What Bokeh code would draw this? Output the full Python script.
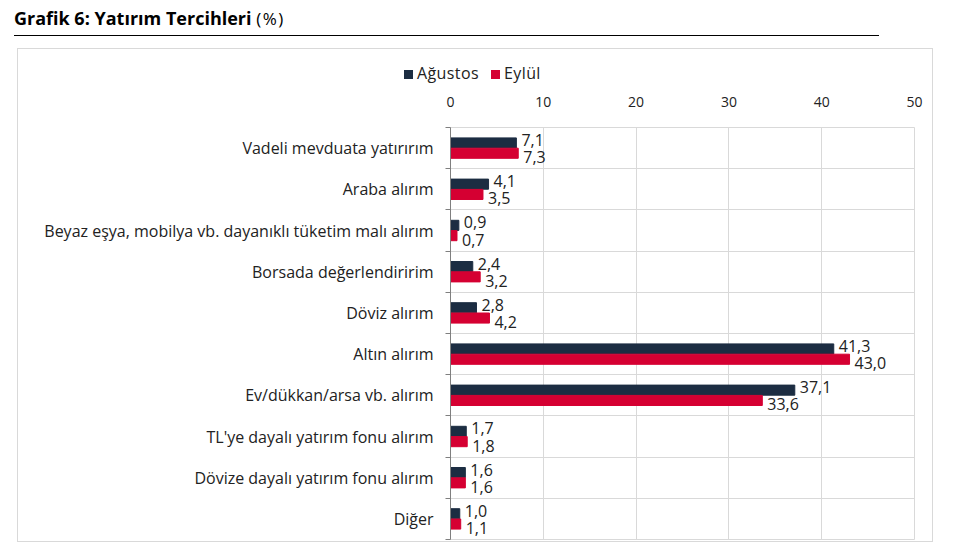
from bokeh.plotting import figure
from bokeh.layouts import column
from bokeh.models import ColumnDataSource, Range1d, LinearAxis, FixedTicker, Grid, Div
from bokeh.transform import dodge
from bokeh.core.properties import value
from bokeh.embed import file_html
from bokeh.resources import INLINE

# data (%)
categories = [
    "Vadeli mevduata yatırırım",
    "Araba alırım",
    "Beyaz eşya, mobilya vb. dayanıklı tüketim malı alırım",
    "Borsada değerlendiririm",
    "Döviz alırım",
    "Altın alırım",
    "Ev/dükkan/arsa vb. alırım",
    "TL'ye dayalı yatırım fonu alırım",
    "Dövize dayalı yatırım fonu alırım",
    "Diğer",
]
agustos = [7.1, 4.1, 0.9, 2.4, 2.8, 41.3, 37.1, 1.7, 1.6, 1.0]
eylul = [7.3, 3.5, 0.7, 3.2, 4.2, 43.0, 33.6, 1.8, 1.6, 1.1]
series_names = ["Ağustos", "Eylül"]
x_ticks = [0, 10, 20, 30, 40, 50]

NAVY = "#1c2d42"
RED = "#d50032"
GRID = "#d9d9d9"
TXT = "#222222"
FONT = "Open Sans"

n = len(categories)
# first category at the top
ypos = [n - i - 0.5 for i in range(n)]


def fmt(v):
    return f"{v:.1f}".replace(".", ",")


src = ColumnDataSource(dict(
    y=ypos,
    ag=agustos,
    ey=eylul,
    ag_lbl=[fmt(v) for v in agustos],
    ey_lbl=[fmt(v) for v in eylul],
))

p = figure(width=914, height=448, output_backend="svg", toolbar_location=None,
           y_range=Range1d(0, n), x_range=Range1d(0, 50),
           x_axis_location="above", y_axis_location=None,
           min_border_left=432, min_border_right=18, min_border_top=34, min_border_bottom=2)
p.outline_line_color = GRID

# top value axis
p.xaxis.ticker = FixedTicker(ticks=x_ticks)
p.xaxis.axis_line_color = None
p.xaxis.major_tick_line_color = None
p.xaxis.minor_tick_line_color = None
p.xaxis.major_label_standoff = 15
p.xaxis.major_label_text_font = FONT
p.xaxis.major_label_text_font_size = "14px"
p.xaxis.major_label_text_color = TXT
p.xgrid.ticker = FixedTicker(ticks=x_ticks)
p.xgrid.grid_line_color = GRID
p.ygrid.visible = False

# tick marks between categories (inner axis), category names (outer axis)
bounds = list(range(n + 1))
tick_axis = LinearAxis(ticker=FixedTicker(ticks=bounds),
                       major_tick_out=5, major_tick_in=0, minor_tick_line_color=None,
                       major_label_text_font_size="0px", major_label_standoff=0,
                       major_label_overrides={b: "" for b in bounds},
                       axis_line_color="#7f7f7f", major_tick_line_color="#7f7f7f")
p.add_layout(tick_axis, "left")
cat_axis = LinearAxis(ticker=FixedTicker(ticks=ypos), major_label_overrides=dict(zip(ypos, categories)),
                      major_tick_line_color=None, major_tick_out=0, major_tick_in=0,
                      minor_tick_line_color=None, axis_line_color=None,
                      major_label_standoff=12, major_label_text_font=FONT,
                      major_label_text_font_size="16px", major_label_text_color=TXT)
p.add_layout(cat_axis, "left")
p.add_layout(Grid(dimension=1, grid_line_color=GRID, ticker=FixedTicker(ticks=bounds[1:-1])))

p.hbar(y=dodge("y", 0.125), left=0, right="ag", height=0.245, color=NAVY, source=src)
p.hbar(y=dodge("y", -0.125), left=0, right="ey", height=0.245, color=RED, source=src)

p.text(x="ag", y=dodge("y", 0.125), text="ag_lbl", source=src,
       x_offset=5, y_offset=-3, text_baseline="middle", text_font=value(FONT),
       text_font_size="16px", text_color=TXT)
p.text(x="ey", y=dodge("y", -0.125), text="ey_lbl", source=src,
       x_offset=5, y_offset=4, text_baseline="middle", text_font=value(FONT),
       text_font_size="16px", text_color=TXT)

# legend strip above the axis labels, inside the same bordered box
swatch = ("<span style=\"display:inline-block;width:9px;height:9px;background:{c};"
          "margin:0 4px 0 {m}px\"></span>{t}")
legend_html = "".join(swatch.format(c=c, m=m, t=t)
                      for c, m, t in zip([NAVY, RED], [0, 12], series_names))
leg = Div(text=(
    "<div style=\"font-family:'Open Sans';font-size:16px;color:#222;padding-left:386px;"
    "padding-top:13px;line-height:22px;white-space:nowrap;letter-spacing:0.4px\">"
    + legend_html + "</div>"),
    width=914, height=44, margin=0)

box = column(leg, p, spacing=0, margin=(0, 0, 0, 17),
             styles={"border": "1px solid #d9d9d9"})

title = Div(text=(
    "<div style=\"font-family:'Open Sans';font-size:18px;color:#000;width:865px;"
    "border-bottom:1.5px solid #000;padding-top:6px;padding-bottom:4px;margin-left:14px;"
    "line-height:24px\"><b>Grafik 6: Yatırım Tercihleri</b> "
    "<span style=\"font-size:17px;letter-spacing:1.5px\">(%)</span></div>"),
    width=940, height=48, margin=0)

layout = column(title, box, spacing=0)
open("out.html", "w").write(file_html(layout, INLINE))
